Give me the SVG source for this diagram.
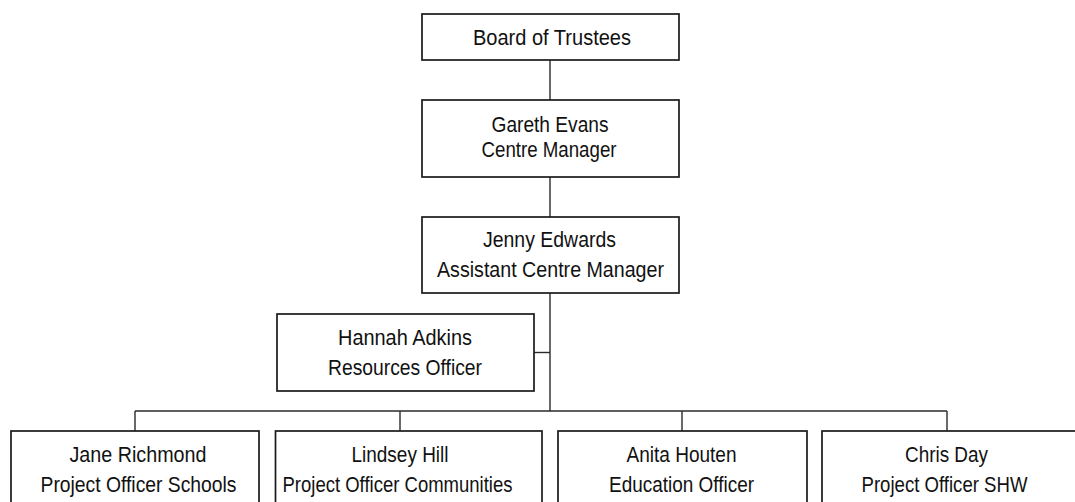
<svg xmlns="http://www.w3.org/2000/svg" width="1075" height="502" viewBox="0 0 1075 502">
  <style>
    .box { fill: #ffffff; stroke: #1a1a1a; stroke-width: 1.7; }
    .link { fill: none; stroke: #2a2a2a; stroke-width: 1.4; }
    text { font-family: "Liberation Sans", Arial, sans-serif; font-size: 22px; fill: #111111; text-anchor: middle; }
  </style>
  <rect x="0" y="0" width="1075" height="502" fill="#ffffff"/>

  <!-- reporting lines -->
  <g id="connectors">
    <path class="link" d="M550 60 V100"/>
    <path class="link" d="M550 177 V217"/>
    <path class="link" d="M550 293 V411"/>
    <path class="link" d="M534 352.5 H550"/>
    <path class="link" d="M135 411 H947"/>
    <path class="link" d="M135 411 V431"/>
    <path class="link" d="M400 411 V431"/>
    <path class="link" d="M682 411 V431"/>
    <path class="link" d="M947 411 V431"/>
  </g>

  <g id="board">
    <rect class="box" x="422" y="14" width="257" height="46"/>
    <text x="552" y="45" textLength="158" lengthAdjust="spacingAndGlyphs">Board of Trustees</text>
  </g>

  <g id="centre-manager">
    <rect class="box" x="422" y="100" width="257" height="77"/>
    <text x="550" y="132" textLength="117" lengthAdjust="spacingAndGlyphs">Gareth Evans</text>
    <text x="549" y="157" textLength="135" lengthAdjust="spacingAndGlyphs">Centre Manager</text>
  </g>

  <g id="assistant-manager">
    <rect class="box" x="422" y="217" width="257" height="76"/>
    <text x="549.5" y="247" textLength="133" lengthAdjust="spacingAndGlyphs">Jenny Edwards</text>
    <text x="550.5" y="277" textLength="227" lengthAdjust="spacingAndGlyphs">Assistant Centre Manager</text>
  </g>

  <g id="resources-officer">
    <rect class="box" x="277" y="314" width="257" height="77"/>
    <text x="405" y="345" textLength="134" lengthAdjust="spacingAndGlyphs">Hannah Adkins</text>
    <text x="405" y="375" textLength="154" lengthAdjust="spacingAndGlyphs">Resources Officer</text>
  </g>

  <g id="schools-officer">
    <rect class="box" x="11" y="431" width="248" height="85"/>
    <text x="138" y="462" textLength="137" lengthAdjust="spacingAndGlyphs">Jane Richmond</text>
    <text x="138.5" y="492" textLength="196" lengthAdjust="spacingAndGlyphs">Project Officer Schools</text>
  </g>

  <g id="communities-officer">
    <rect class="box" x="275.5" y="431" width="266.5" height="85"/>
    <text x="400" y="462" textLength="97" lengthAdjust="spacingAndGlyphs">Lindsey Hill</text>
    <text x="397.5" y="492" textLength="230" lengthAdjust="spacingAndGlyphs">Project Officer Communities</text>
  </g>

  <g id="education-officer">
    <rect class="box" x="558" y="431" width="249" height="85"/>
    <text x="681.5" y="462" textLength="110" lengthAdjust="spacingAndGlyphs">Anita Houten</text>
    <text x="681.5" y="492" textLength="145" lengthAdjust="spacingAndGlyphs">Education Officer</text>
  </g>

  <g id="shw-officer">
    <rect class="box" x="822" y="431" width="270" height="85"/>
    <text x="946.5" y="462" textLength="83" lengthAdjust="spacingAndGlyphs">Chris Day</text>
    <text x="944.5" y="492" textLength="166" lengthAdjust="spacingAndGlyphs">Project Officer SHW</text>
  </g>
</svg>
